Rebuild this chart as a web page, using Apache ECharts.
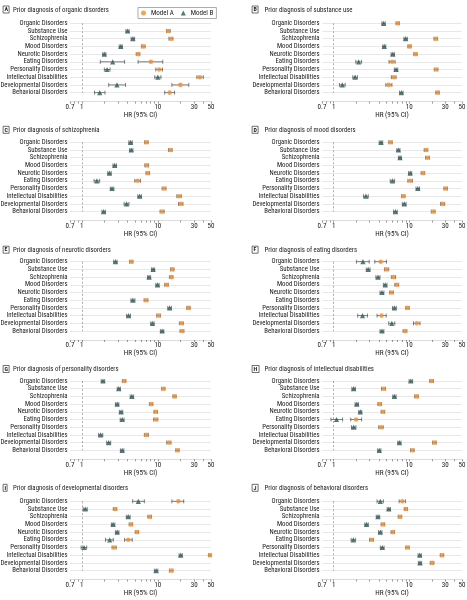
<!DOCTYPE html>
<html><head><meta charset="utf-8">
<script src="https://cdn.jsdelivr.net/npm/echarts@6/dist/echarts.min.js"></script>
<style>html,body{margin:0;padding:0;background:#fff}#c{width:467px;height:600px}</style>
</head><body><div id="c"></div><script>
const categories = ['Organic Disorders','Substance Use','Schizophrenia','Mood Disorders','Neurotic Disorders','Eating Disorders','Personality Disorders','Intellectual Disabilities','Developmental Disorders','Behavioral Disorders'];
const panelLetters = ['A','B','C','D','E','F','G','H','I','J'];
const panelTitles = ['Prior diagnosis of organic disorders','Prior diagnosis of substance use','Prior diagnosis of schizophrenia','Prior diagnosis of mood disorders','Prior diagnosis of neurotic disorders','Prior diagnosis of eating disorders','Prior diagnosis of personality disorders','Prior diagnosis of intellectual disabilities','Prior diagnosis of developmental disorders','Prior diagnosis of behavioral disorders'];
const seriesNames = ['Model A','Model B'];
const xTickLabels = [0.7, 1, 10, 30, 50];
const xTicks = [0.7,0.8,0.9,1,2,3,4,5,6,7,8,9,10,20,30,40,50];

// Panel A
const a_modelA    = [null, 13.7, 14.9, 6.4, 5.5, 8.1, 10.4, 35.7, 19.8, 14.3];
const a_modelA_lo = [null, 13.0, 14.0, 6.1, 5.2, 5.5, 9.4, 32.6, 15.3, 12.3];
const a_modelA_hi = [null, 14.5, 15.8, 6.8, 5.8, 11.6, 11.5, 39.6, 25.5, 16.6];
const a_modelB    = [null, 4.0, 4.7, 3.26, 1.98, 2.55, 2.15, 10.0, 2.9, 1.72];
const a_modelB_lo = [null, 3.8, 4.45, 3.1, 1.88, 1.75, 1.98, 9.1, 2.26, 1.47];
const a_modelB_hi = [null, 4.2, 4.95, 3.42, 2.08, 3.65, 2.35, 11.0, 3.76, 2.02];
// Panel B
const b_modelA    = [7.05, null, 22.5, 10.1, 12.1, 5.94, 22.7, 6.25, 5.37, 23.7];
const b_modelA_lo = [6.7, null, 21.3, 9.6, 11.5, 5.4, 21.5, 5.8, 4.9, 22.5];
const b_modelA_hi = [7.4, null, 23.7, 10.6, 12.7, 6.5, 24.0, 6.7, 5.9, 25.0];
const b_modelB    = [4.58, null, 8.96, 4.67, 6.06, 2.14, 6.7, 1.92, 1.30, 7.87];
const b_modelB_lo = [4.35, null, 8.5, 4.45, 5.75, 1.96, 6.35, 1.79, 1.19, 7.45];
const b_modelB_hi = [4.82, null, 9.45, 4.9, 6.38, 2.34, 7.05, 2.06, 1.42, 8.3];
// Panel C
const c_modelA    = [7.07, 14.6, null, 7.14, 7.37, 5.43, 12.1, 19.0, 20.0, 11.4];
const c_modelA_lo = [6.7, 13.8, null, 6.75, 7.0, 4.98, 11.4, 17.8, 18.7, 10.7];
const c_modelA_hi = [7.45, 15.4, null, 7.55, 7.8, 5.9, 12.8, 20.3, 21.4, 12.1];
const c_modelB    = [4.38, 4.47, null, 2.71, 2.31, 1.58, 2.5, 5.77, 3.88, 1.94];
const c_modelB_lo = [4.15, 4.25, null, 2.57, 2.19, 1.45, 2.37, 5.45, 3.6, 1.84];
const c_modelB_hi = [4.62, 4.7, null, 2.86, 2.44, 1.72, 2.64, 6.1, 4.17, 2.05];
// Panel D
const d_modelA    = [5.65, 16.7, 17.5, null, 15.2, 10.3, 30.4, 8.35, 27.7, 20.8];
const d_modelA_lo = [5.35, 15.8, 16.5, null, 14.4, 9.6, 28.8, 7.9, 26.0, 19.6];
const d_modelA_hi = [5.95, 17.6, 18.5, null, 16.0, 11.0, 32.1, 8.8, 29.5, 22.0];
const d_modelB    = [4.23, 7.19, 7.55, null, 10.3, 6.0, 13.0, 2.67, 8.6, 6.57];
const d_modelB_lo = [4.0, 6.85, 7.2, null, 9.8, 5.6, 12.3, 2.48, 8.1, 6.2];
const d_modelB_hi = [4.46, 7.55, 7.9, null, 10.8, 6.4, 13.7, 2.87, 9.1, 6.95];
// Panel E
const e_modelA    = [4.47, 15.5, 15.0, 13.0, null, 7.0, 25.3, 10.2, 20.4, 20.8];
const e_modelA_lo = [4.25, 14.7, 14.2, 12.3, null, 6.6, 24.0, 9.65, 19.2, 19.6];
const e_modelA_hi = [4.7, 16.3, 15.8, 13.7, null, 7.4, 26.6, 10.8, 21.6, 22.0];
const e_modelB    = [2.77, 8.67, 7.67, 9.9, null, 4.7, 14.3, 4.12, 8.5, 11.4];
const e_modelB_lo = [2.62, 8.25, 7.3, 9.4, null, 4.42, 13.5, 3.88, 8.05, 10.8];
const e_modelB_hi = [2.92, 9.1, 8.05, 10.4, null, 5.0, 15.1, 4.37, 8.95, 12.0];
// Panel F
const f_modelA    = [4.19, 5.0, 6.18, 6.84, 5.82, null, 9.5, 4.31, 12.6, 8.78];
const f_modelA_lo = [3.5, 4.7, 5.8, 6.45, 5.5, null, 9.0, 3.75, 11.4, 8.3];
const f_modelA_hi = [5.0, 5.35, 6.6, 7.25, 6.15, null, 10.0, 4.96, 13.9, 9.3];
const f_modelB    = [2.44, 2.86, 3.86, 4.81, 4.36, null, 6.37, 2.41, 5.88, 4.36];
const f_modelB_lo = [2.0, 2.7, 3.62, 4.55, 4.1, null, 6.0, 2.08, 5.35, 4.1];
const f_modelB_hi = [2.95, 3.03, 4.1, 5.08, 4.62, null, 6.75, 2.8, 6.45, 4.62];
// Panel G
const g_modelA    = [3.61, 11.8, 16.6, 8.16, 9.4, 9.4, null, 7.07, 14.0, 18.1];
const g_modelA_lo = [3.42, 11.2, 15.8, 7.75, 8.9, 8.8, null, 6.65, 13.1, 17.2];
const g_modelA_hi = [3.8, 12.4, 17.4, 8.6, 9.9, 10.0, null, 7.5, 14.9, 19.0];
const g_modelB    = [1.90, 3.07, 4.56, 2.92, 3.29, 3.4, null, 1.77, 2.26, 3.4];
const g_modelB_lo = [1.8, 2.92, 4.32, 2.77, 3.12, 3.2, null, 1.66, 2.12, 3.22];
const g_modelB_hi = [2.0, 3.22, 4.8, 3.07, 3.46, 3.6, null, 1.89, 2.4, 3.58];
// Panel H
const h_modelA    = [19.8, 4.58, 12.5, 4.06, 4.49, 1.98, 4.23, null, 21.6, 11.0];
const h_modelA_lo = [18.7, 4.3, 11.8, 3.85, 4.25, 1.68, 3.95, null, 20.4, 10.4];
const h_modelA_hi = [20.9, 4.86, 13.2, 4.28, 4.73, 2.34, 4.52, null, 22.8, 11.6];
const h_modelB    = [10.5, 1.84, 6.37, 2.02, 2.25, 1.09, 1.84, null, 7.41, 4.02];
const h_modelB_lo = [9.95, 1.74, 6.05, 1.92, 2.14, 0.92, 1.72, null, 7.05, 3.82];
const h_modelB_hi = [11.1, 1.94, 6.7, 2.13, 2.36, 1.31, 1.97, null, 7.8, 4.22];
// Panel I
const i_modelA    = [18.6, 2.74, 7.83, 4.43, 5.32, 4.08, 2.66, 48.5, null, 15.0];
const i_modelA_lo = [15.3, 2.6, 7.4, 4.2, 5.05, 3.65, 2.5, 46.5, null, 14.2];
const i_modelA_hi = [21.9, 2.88, 8.25, 4.66, 5.6, 4.6, 2.84, 50.0, null, 15.8];
const i_modelB    = [5.54, 1.11, 4.08, 2.58, 2.92, 2.33, 1.07, 20.0, null, 9.5];
const i_modelB_lo = [4.66, 1.04, 3.85, 2.45, 2.77, 2.05, 0.98, 19.0, null, 9.0];
const i_modelB_hi = [6.65, 1.18, 4.32, 2.72, 3.08, 2.6, 1.16, 21.0, null, 10.0];
// Panel J
const j_modelA    = [8.1, 9.05, 7.55, 4.49, 6.06, 3.16, 9.5, 27.2, 20.1, null];
const j_modelA_lo = [7.35, 8.6, 7.15, 4.25, 5.75, 2.98, 9.0, 25.8, 19.0, null];
const j_modelA_hi = [8.9, 9.5, 7.95, 4.73, 6.38, 3.35, 10.0, 28.6, 21.2, null];
const j_modelB    = [4.14, 5.37, 3.86, 2.72, 4.14, 1.82, 4.4, 13.8, 13.9, null];
const j_modelB_lo = [3.75, 5.1, 3.66, 2.58, 3.92, 1.7, 4.15, 13.1, 13.2, null];
const j_modelB_hi = [4.55, 5.65, 4.07, 2.87, 4.36, 1.95, 4.65, 14.5, 14.6, null];

const panelData = [
  [a_modelA, a_modelA_lo, a_modelA_hi, a_modelB, a_modelB_lo, a_modelB_hi],
  [b_modelA, b_modelA_lo, b_modelA_hi, b_modelB, b_modelB_lo, b_modelB_hi],
  [c_modelA, c_modelA_lo, c_modelA_hi, c_modelB, c_modelB_lo, c_modelB_hi],
  [d_modelA, d_modelA_lo, d_modelA_hi, d_modelB, d_modelB_lo, d_modelB_hi],
  [e_modelA, e_modelA_lo, e_modelA_hi, e_modelB, e_modelB_lo, e_modelB_hi],
  [f_modelA, f_modelA_lo, f_modelA_hi, f_modelB, f_modelB_lo, f_modelB_hi],
  [g_modelA, g_modelA_lo, g_modelA_hi, g_modelB, g_modelB_lo, g_modelB_hi],
  [h_modelA, h_modelA_lo, h_modelA_hi, h_modelB, h_modelB_lo, h_modelB_hi],
  [i_modelA, i_modelA_lo, i_modelA_hi, i_modelB, i_modelB_lo, i_modelB_hi],
  [j_modelA, j_modelA_lo, j_modelA_hi, j_modelB, j_modelB_lo, j_modelB_hi]
];

const FONT = '"Roboto Condensed", "Open Sans Condensed", "Liberation Sans", sans-serif';
const ORANGE = '#EF8E30';
const TEAL = '#2A575B';
const TXT = '#1a1a1a';
const colLeft = [70, 322], colWidth = [141, 140];
const rowTop = [23.3, 142.3, 261.7, 381, 501.3], rowH = 69.3;
const titleY = [10, 130.3, 250.2, 369.5, 488.3];
const boxLeft = [3, 252], textLeft = [13, 264.5];

const grids = [], xAxes = [], yAxes = [], series = [], titles = [];

function ciRenderer(params, api) {
  const lo = api.coord([api.value(0), api.value(2)]);
  const hi = api.coord([api.value(1), api.value(2)]);
  const h = 2;
  const st = {stroke: '#4a4a4a', lineWidth: 0.7};
  return {type: 'group', children: [
    {type: 'line', shape: {x1: lo[0], y1: lo[1], x2: hi[0], y2: hi[1]}, style: st},
    {type: 'line', shape: {x1: lo[0], y1: lo[1] - h, x2: lo[0], y2: lo[1] + h}, style: st},
    {type: 'line', shape: {x1: hi[0], y1: hi[1] - h, x2: hi[0], y2: hi[1] + h}, style: st}
  ]};
}

panelData.forEach((pd, i) => {
  const col = i % 2, row = Math.floor(i / 2);
  grids.push({left: colLeft[col], width: colWidth[col], top: rowTop[row], height: rowH,
    containLabel: false, outerBoundsMode: 'none'});
  xAxes.push({
    type: 'log', logBase: 10, gridIndex: i, min: 0.7, max: 50, offset: 9,
    axisLine: {show: true, lineStyle: {color: '#c4c4c4', width: 0.6}},
    axisTick: {show: true, customValues: xTicks, length: 2, lineStyle: {color: '#555', width: 0.6}},
    axisLabel: {customValues: xTickLabels, fontSize: 7, margin: 2, color: TXT, fontFamily: FONT,
      formatter: v => String(Math.round(v * 10) / 10)},
    splitLine: {show: false},
    name: 'HR (95% CI)', nameLocation: 'middle', nameGap: 8,
    nameTextStyle: {fontSize: 7.2, color: TXT, fontFamily: FONT}
  });
  yAxes.push({
    type: 'category', gridIndex: i, data: categories, inverse: true, boundaryGap: false,
    axisLine: {show: false}, axisTick: {show: false},
    axisLabel: {interval: 0, fontSize: 6.8, color: TXT, margin: 2.5, fontFamily: FONT},
    splitLine: {show: true, interval: 0, lineStyle: {color: '#d9d9d9', width: 0.6}}
  });
  titles.push({text: panelLetters[i], left: boxLeft[col], top: titleY[row] - 4,
    padding: [0.5, 1.6], borderColor: '#333', borderWidth: 0.7,
    textStyle: {fontSize: 6, lineHeight: 6.5, fontWeight: 'bold', color: TXT, fontFamily: FONT}});
  titles.push({text: panelTitles[i], left: textLeft[col], top: titleY[row] - 4.5, padding: 0,
    textStyle: {fontSize: 6.8, lineHeight: 9, fontWeight: 'normal', color: TXT, fontFamily: FONT}});

  const [ma, maLo, maHi, mb, mbLo, mbHi] = pd;
  const ciA = [], ciB = [], ptA = [], ptB = [];
  categories.forEach((c, k) => {
    if (ma[k] != null) { ptA.push([ma[k], k]); ciA.push([maLo[k], maHi[k], k]); }
    if (mb[k] != null) { ptB.push([mb[k], k]); ciB.push([mbLo[k], mbHi[k], k]); }
  });
  series.push({type: 'custom', name: 'ciA' + i, xAxisIndex: i, yAxisIndex: i, z: 2, silent: true,
    renderItem: ciRenderer, encode: {x: [0, 1], y: 2}, data: ciA});
  series.push({type: 'custom', name: 'ciB' + i, xAxisIndex: i, yAxisIndex: i, z: 2, silent: true,
    renderItem: ciRenderer, encode: {x: [0, 1], y: 2}, data: ciB});
  series.push({type: 'scatter', name: seriesNames[0], xAxisIndex: i, yAxisIndex: i, z: 4, silent: true,
    symbol: 'circle', symbolSize: 4.6, itemStyle: {color: ORANGE}, data: ptA,
    markLine: {silent: true, symbol: 'none', label: {show: false},
      lineStyle: {color: '#8a8a8a', type: [2, 2], width: 0.7}, data: [{xAxis: 1}]}});
  series.push({type: 'scatter', name: seriesNames[1], xAxisIndex: i, yAxisIndex: i, z: 4, silent: true,
    symbol: 'triangle', symbolSize: 5.2, itemStyle: {color: TEAL}, data: ptB});
});

const chart = echarts.init(document.getElementById('c'), null, {renderer: 'canvas', width: 467, height: 600});
chart.setOption({
  backgroundColor: '#fff',
  animation: false,
  textStyle: {fontFamily: FONT},
  title: titles,
  legend: {data: seriesNames, left: 138, top: 7.5, orient: 'horizontal',
    padding: [2, 3], itemGap: 7, itemWidth: 5, itemHeight: 5,
    borderColor: '#8a8a8a', borderWidth: 0.7, selectedMode: false,
    textStyle: {fontSize: 7, color: TXT, fontFamily: FONT}},
  grid: grids, xAxis: xAxes, yAxis: yAxes, series: series
});
</script></body></html>
